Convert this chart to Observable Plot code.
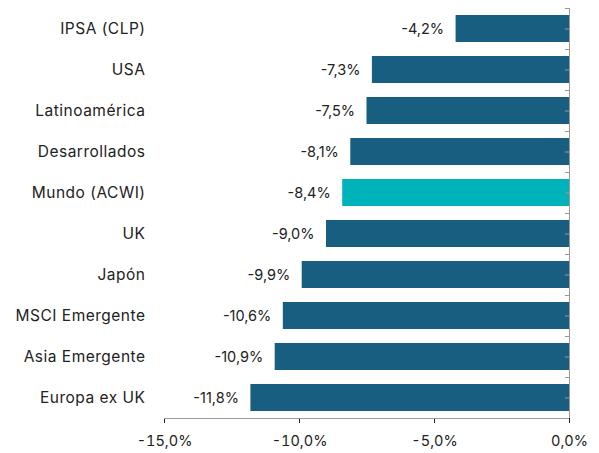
<!DOCTYPE html>
<html>
<head>
<meta charset="utf-8">
<script src="https://cdn.jsdelivr.net/npm/d3@7"></script>
<script src="https://cdn.jsdelivr.net/npm/@observablehq/plot@0.6"></script>
<style>
  html, body { margin: 0; padding: 0; background: #fff; }
  #chart svg { font-family: Inter, "Open Sans", sans-serif; }
  #chart g[aria-label="y-axis tick label"] { font-size: 15.5px; letter-spacing: 0.5px; }
</style>
</head>
<body>
<div id="chart"></div>
<script>
const categories = ["IPSA (CLP)", "USA", "Latinoamérica", "Desarrollados", "Mundo (ACWI)", "UK", "Japón", "MSCI Emergente", "Asia Emergente", "Europa ex UK"];
const values = [-4.2, -7.3, -7.5, -8.1, -8.4, -9.0, -9.9, -10.6, -10.9, -11.8];
const highlight = "Mundo (ACWI)";
const xTicks = [-15, -10, -5, 0];

const data = categories.map((c, i) => ({name: c, value: values[i]}));
const fmt = v => v.toFixed(1).replace(".", ",") + "%";

const W = 599, H = 453, mTop = 8, mBottom = 35;
const step = (H - mTop - mBottom) / categories.length;

const plot = Plot.plot({
  width: W,
  height: H,
  marginTop: mTop,
  marginBottom: mBottom,
  marginLeft: 164,
  marginRight: 30,
  style: {fontSize: "14.5px", color: "#222", background: "#fff"},
  x: {domain: [-15, 0], ticks: xTicks, tickFormat: fmt, tickSize: 5, tickPadding: 12, label: null},
  y: {domain: categories, paddingInner: 0.34, paddingOuter: 0.17, tickSize: 0, tickPadding: 19, label: null},
  marks: [
    Plot.barX(data, {y: "name", x: "value", fill: d => d.name === highlight ? "#00b2b9" : "#175e80"}),
    Plot.text(data, {y: "name", x: "value", text: d => fmt(d.value), textAnchor: "end", dx: -12, fill: "#222", fontSize: 14.5, letterSpacing: 0.2}),
    Plot.ruleY(categories, {y: d => d, x1: -0.15, x2: 0, stroke: "#999"}),
    Plot.ruleY(categories, {y: d => d, x1: -0.15, x2: 0, dy: step / 2, stroke: "#999"}),
    Plot.ruleY([categories[0]], {y: d => d, x1: -0.15, x2: 0, dy: -step / 2, stroke: "#999"}),
    Plot.ruleX([0], {stroke: "#999"}),
    Plot.ruleY([categories[categories.length - 1]], {y: d => d, x1: -15, x2: 0, dy: step / 2, stroke: "#999"})
  ]
});
document.getElementById("chart").appendChild(plot);
</script>
</body>
</html>
